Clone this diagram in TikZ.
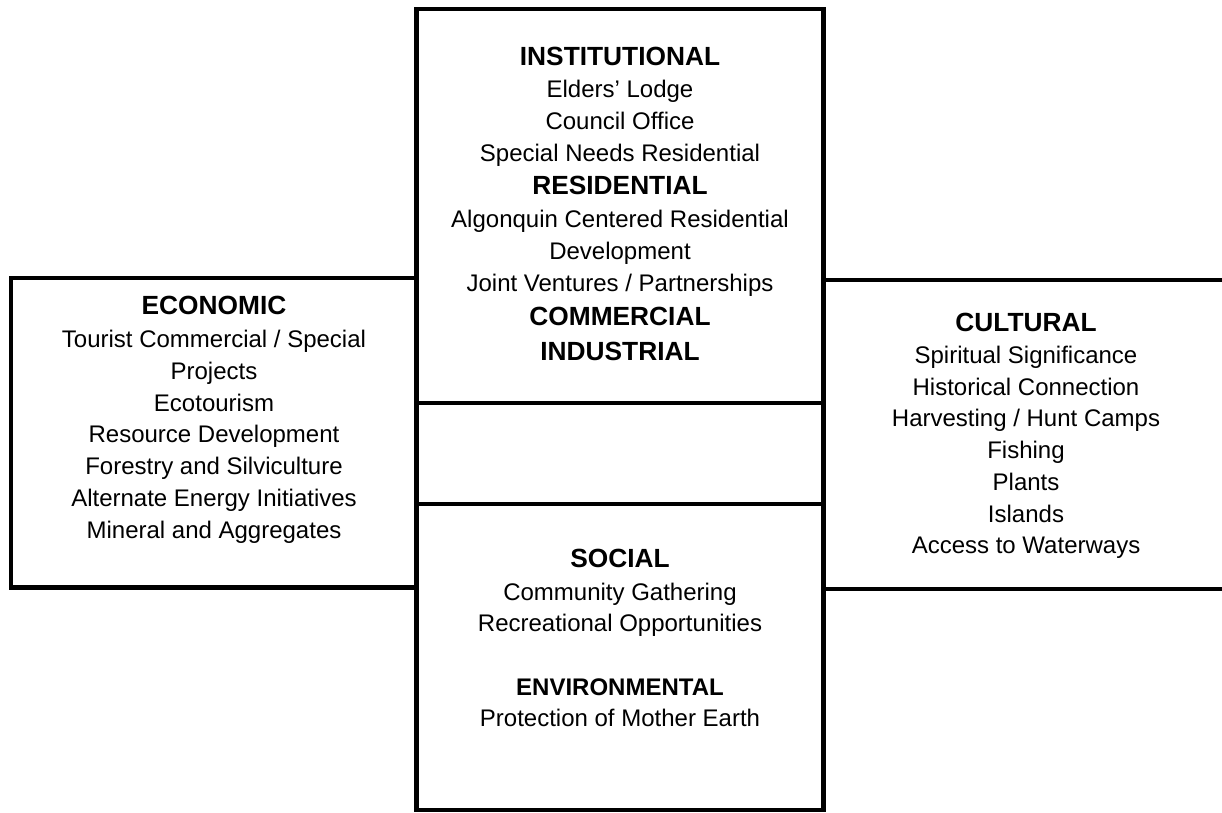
\documentclass[tikz,border=0pt]{standalone}
\usepackage{fontspec}
\setmainfont{Liberation Sans}
\tikzset{
  frame/.style={draw=black, line width=4.5pt, inner sep=0pt, outer sep=0pt, anchor=north west},
  edge/.style={draw=black, line width=4.5pt},
  hd/.style={anchor=base, inner sep=0pt, font=\fontsize{26.3}{30}\selectfont\bfseries},
  hds/.style={anchor=base, inner sep=0pt, font=\fontsize{24}{30}\selectfont\bfseries},
  bd/.style={anchor=base, inner sep=0pt, font=\fontsize{24}{30}\selectfont}
}
\begin{document}
\begin{tikzpicture}[x=1pt,y=-1pt]
\useasboundingbox (0,0) rectangle (1222,812);
% boxes
\node[frame, minimum width=405.7pt, minimum height=309.5pt] (econ) at (11,278) {};
\node[frame, minimum width=406.6pt, minimum height=394pt] (inst) at (416.7,9) {};
\node[frame, minimum width=406.6pt, minimum height=101pt] (mid) at (416.7,403) {};
\node[frame, minimum width=406.6pt, minimum height=306pt] (soc) at (416.7,504) {};
\coordinate (cultTR) at (1222,280);
\coordinate (cultBR) at (1222,589);
\draw[edge] (cultTR) -- (inst.east |- cultTR);
\draw[edge] (inst.east |- cultBR) -- (cultBR);
% top box text
\node[hd] (t1) at (620,65) {INSTITUTIONAL};
\node[bd] (t2) at (620,97.7) {Elders’ Lodge};
\node[bd] (t3) at (620,129.3) {Council Office};
\node[bd] (t4) at (620,161) {Special Needs Residential};
\node[hd] (t5) at (620,194.3) {RESIDENTIAL};
\node[bd] (t6) at (620,227.7) {Algonquin Centered Residential};
\node[bd] (t7) at (620,259.3) {Development};
\node[bd] (t8) at (620,291.5) {Joint Ventures / Partnerships};
\node[hd] (t9) at (620,325) {COMMERCIAL};
\node[hd] (t10) at (620,360.7) {INDUSTRIAL};
% left box text
\node[hd] (e1) at (214,314) {ECONOMIC};
\node[bd] (e2) at (214,347.7) {Tourist Commercial / Special};
\node[bd] (e3) at (214,379) {Projects};
\node[bd] (e4) at (214,411.7) {Ecotourism};
\node[bd] (e5) at (214,442.7) {Resource Development};
\node[bd] (e6) at (214,474) {Forestry and Silviculture};
\node[bd] (e7) at (214,506.7) {Alternate Energy Initiatives};
\node[bd] (e8) at (214,538) {Mineral and Aggregates};
% right box text
\node[hd] (c1) at (1026,331) {CULTURAL};
\node[bd] (c2) at (1026,363.3) {Spiritual Significance};
\node[bd] (c3) at (1026,395.7) {Historical Connection};
\node[bd] (c4) at (1026,426.7) {Harvesting / Hunt Camps};
\node[bd] (c5) at (1026,458.3) {Fishing};
\node[bd] (c6) at (1026,490) {Plants};
\node[bd] (c7) at (1026,522.3) {Islands};
\node[bd] (c8) at (1026,553.3) {Access to Waterways};
% bottom box text
\node[hd] (s1) at (620,567.7) {SOCIAL};
\node[bd] (s2) at (620,600) {Community Gathering};
\node[bd] (s3) at (620,631.7) {Recreational Opportunities};
\node[hds] (s4) at (620,695) {ENVIRONMENTAL};
\node[bd] (s5) at (620,726.7) {Protection of Mother Earth};
\end{tikzpicture}
\end{document}
